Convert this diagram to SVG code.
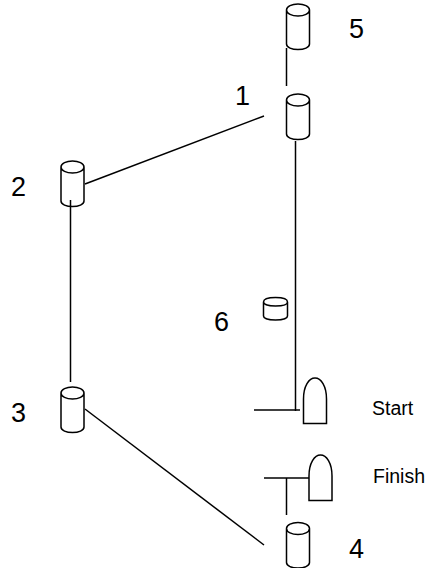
<svg xmlns="http://www.w3.org/2000/svg" width="427" height="568" viewBox="0 0 427 568">
<style>
.s{fill:none;stroke:#000;stroke-width:1.5}
.c{fill:none;stroke:#000;stroke-width:1.5}
.n{font-family:"Liberation Sans",Arial,sans-serif;font-size:27px;fill:#000}
.l{font-family:"Liberation Sans",Arial,sans-serif;font-size:19.500px;fill:#000}
</style>
<defs>
<g id="cyl"><path class="s" d="M-11.500 6V40C-11.500 43.500-6 45.500 0 45.500S11.500 43.500 11.500 40V6M-11.500 6C-11.500 2.200-6 0 0 0S11.500 2.200 11.500 6S6 12 0 12S-11.500 9.800-11.500 6Z"/></g>
<path id="mark" class="s" d="M-11.500 45.500V21C-11.500 8-6 0 0 0S11.500 8 11.500 21V45.500Z"/>
</defs>
<g id="connectors">
<path class="c" d="M286.500 48V86"/>
<path class="c" d="M264 116L85 184"/>
<path class="c" d="M295.500 141V411"/>
<path class="c" d="M70.500 200V382"/>
<path class="c" d="M85 409L264 545"/>
<path class="c" d="M254 410H300"/>
<path class="c" d="M264 478H309"/>
<path class="c" d="M286.500 478V515"/>
</g>
<g id="node-5"><use href="#cyl" x="298" y="4"/><text class="n" x="349" y="38">5</text></g>
<g id="node-1"><use href="#cyl" x="298" y="94"/><text class="n" x="235" y="105">1</text></g>
<g id="node-2"><use href="#cyl" x="72.500" y="161"/><text class="n" x="11" y="196">2</text></g>
<g id="node-3"><use href="#cyl" x="72.500" y="387"/><text class="n" x="11" y="422">3</text></g>
<g id="node-4"><use href="#cyl" x="298" y="522.500"/><text class="n" x="349" y="558">4</text></g>
<g id="node-6"><path class="s" d="M263.500 302V316C263.500 318.500 269 320 275.500 320S287.500 318.500 287.500 316V302M263.500 302C263.500 299 269 297.500 275.500 297.500S287.500 299 287.500 302S282 306 275.500 306S263.500 304.500 263.500 302Z"/><text class="n" x="214" y="331">6</text></g>
<g id="start"><use href="#mark" x="315" y="378"/><text class="l" x="372" y="415">Start</text></g>
<g id="finish"><use href="#mark" x="320.500" y="455"/><text class="l" x="373" y="483">Finish</text></g>
</svg>
